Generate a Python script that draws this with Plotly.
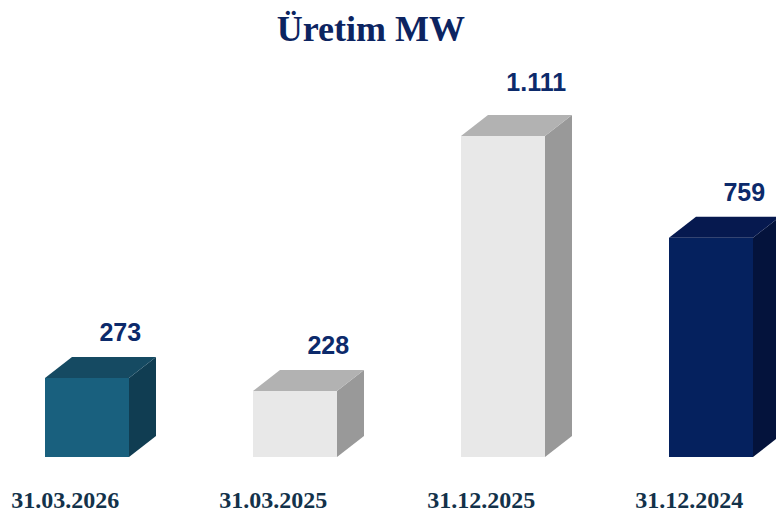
import plotly.graph_objects as go

categories = ["31.03.2026", "31.03.2025", "31.12.2025", "31.12.2024"]
values = [273, 228, 1111, 759]
value_labels = ["273", "228", "1.111", "759"]
front_colors = ["#19607e", "#e8e8e8", "#e8e8e8", "#05215e"]
top_colors = ["#154a62", "#b2b2b2", "#b2b2b2", "#06194f"]
side_colors = ["#103d52", "#999999", "#999999", "#04133c"]

W, H = 776, 515
ML, MR, MT, MB = 0, 0, 60, 58
px_per_x = 208.0
x0 = -87.0 / px_per_x
x1 = x0 + (W - ML - MR) / px_per_x
px_per_y = 0.289
y1 = (H - MT - MB) / px_per_y

bw = 84 / px_per_x
dx = 27 / px_per_x
dy = 21 / px_per_y

fig = go.Figure()
xs = list(range(len(categories)))
for i, v in enumerate(values):
    xl, xr = i - bw / 2, i + bw / 2
    # front
    fig.add_trace(go.Scatter(x=[xl, xr, xr, xl, xl], y=[0, 0, v, v, 0], fill="toself",
                             fillcolor=front_colors[i], mode="lines", line=dict(width=0),
                             hoverinfo="skip", showlegend=False))
    # side
    fig.add_trace(go.Scatter(x=[xr, xr + dx, xr + dx, xr, xr], y=[0, dy, v + dy, v, 0], fill="toself",
                             fillcolor=side_colors[i], mode="lines", line=dict(width=0),
                             hoverinfo="skip", showlegend=False))
    # top
    fig.add_trace(go.Scatter(x=[xl, xl + dx, xr + dx, xr, xl], y=[v, v + dy, v + dy, v, v], fill="toself",
                             fillcolor=top_colors[i], mode="lines", line=dict(width=0),
                             hoverinfo="skip", showlegend=False))

fig.add_trace(go.Scatter(x=[i + 0.16 for i in xs],
                         y=[v + dy + 22 / px_per_y + (8 / px_per_y if v > 1000 else 0) for v in values],
                         text=[f"<b>{t}</b>" for t in value_labels], mode="text", textposition="middle center",
                         textfont=dict(family="Liberation Sans, Arial", size=25, color="#0c2a6b"),
                         hoverinfo="skip", showlegend=False, cliponaxis=False))

fig.update_layout(
    width=W, height=H,
    margin=dict(l=ML, r=MR, t=MT, b=MB),
    plot_bgcolor="white", paper_bgcolor="white",
    title=dict(text="<b>Üretim MW</b>", x=0.478, xanchor="center", y=0.945, yanchor="middle",
               font=dict(family="Liberation Serif, Times New Roman", size=36, color="#0c2461")),
    xaxis=dict(range=[x0, x1], showgrid=False, zeroline=False, showline=False,
               tickmode="array", tickvals=[i - 0.105 for i in xs],
               ticktext=[f"<b>{c}</b>" for c in categories], ticks="", ticklen=0,
               tickfont=dict(family="Liberation Serif, Times New Roman", size=24, color="#13324a")),
    yaxis=dict(range=[0, y1], visible=False, showgrid=False, zeroline=False),
)
fig.update_xaxes(ticklabelstandoff=26)
fig.write_html("out.html", config={"displayModeBar": False},
               post_script="document.body.style.margin='0';document.body.style.overflow='hidden';")
